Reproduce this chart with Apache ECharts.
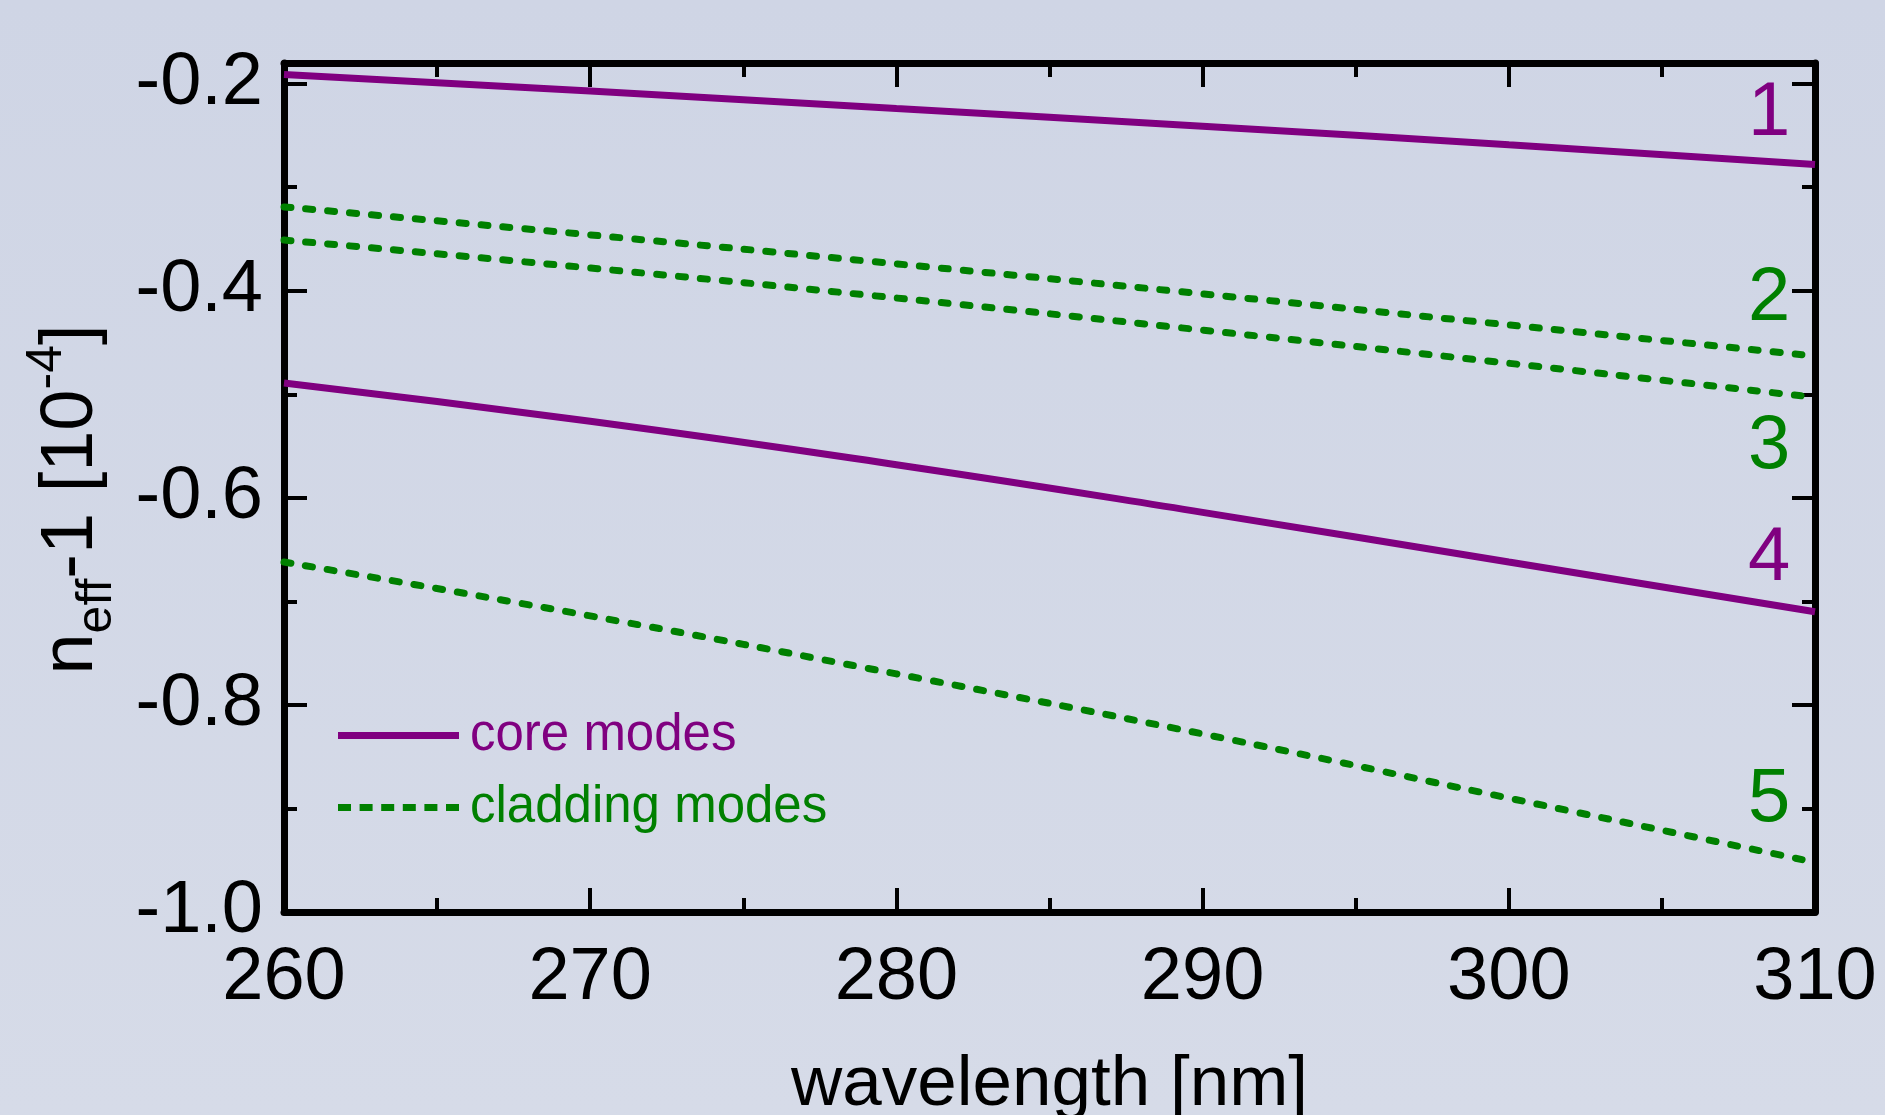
<!DOCTYPE html>
<html>
<head>
<meta charset="utf-8">
<script src="https://cdn.jsdelivr.net/npm/echarts@6/dist/echarts.min.js"></script>
<style>
  html, body { margin: 0; padding: 0; }
  #chart { width: 1885px; height: 1115px; }
</style>
</head>
<body>
<div id="chart"></div>
<script>
// wavelength [nm] and n_eff - 1 [1e-4] per mode
const wavelength = [260, 270, 280, 290, 300, 310];
const mode1 = [-0.191, -0.207, -0.224, -0.241, -0.259, -0.278];
const mode2 = [-0.319, -0.346, -0.374, -0.403, -0.433, -0.463];
const mode3 = [-0.351, -0.378, -0.407, -0.438, -0.470, -0.503];
const mode4 = [-0.489, -0.526, -0.568, -0.614, -0.662, -0.710];
const mode5 = [-0.662, -0.714, -0.770, -0.828, -0.890, -0.952];

// mode numbers written at the right end of each curve
const modeLabels = ['1', '2', '3', '4', '5'];
const labelX = 308.5;
const labelY = [-0.229, -0.408, -0.551, -0.659, -0.892];

const PURPLE = '#800080';
const GREEN = '#008000';
const FONT = "'Liberation Sans Narrow', 'Arial Narrow', 'Liberation Sans', Arial, sans-serif";

// dotted legend sample: six short dashes
const DOTTED_ICON = 'path://M0,0h13v7h-13z M21.6,0h13v7h-13z M43.2,0h13v7h-13z M64.8,0h13v7h-13z M86.4,0h13v7h-13z M108,0h13v7h-13z';

const chart = echarts.init(document.getElementById('chart'));

const toPairs = ys => wavelength.map((x, i) => [x, ys[i]]);

const makeSeries = (name, ys, idx, core) => ({
  name: name,
  type: 'line',
  data: toPairs(ys),
  symbol: 'none',
  smooth: true,
  lineStyle: core
    ? { color: PURPLE, width: 7 }
    : { color: GREEN, width: 7, type: [7, 15], cap: 'round' },
  itemStyle: { color: core ? PURPLE : GREEN },
  markPoint: {
    symbol: 'circle',
    symbolSize: 0,
    silent: true,
    label: {
      show: true,
      position: 'inside',
      color: core ? PURPLE : GREEN,
      fontSize: 76,
      fontFamily: FONT,
      formatter: modeLabels[idx]
    },
    data: [{ coord: [labelX, labelY[idx]] }]
  }
});

const xBase = (pos, labels) => ({
  type: 'value',
  position: pos,
  min: 260,
  max: 310,
  interval: 10,
  axisLine: { show: true, onZero: false, lineStyle: { color: '#000', width: 7 } },
  axisTick: { show: true, inside: true, length: 24, lineStyle: { color: '#000', width: 4 } },
  minorTick: { show: true, splitNumber: 2, length: 14, lineStyle: { color: '#000', width: 4 } },
  splitLine: { show: false },
  axisLabel: {
    show: labels,
    color: '#000',
    fontSize: 74,
    lineHeight: 74,
    fontFamily: FONT,
    margin: 30
  }
});

const yBase = (pos, interval, tickLen, labels, line) => ({
  type: 'value',
  position: pos,
  offset: 0,
  min: -1,
  max: -0.18,
  interval: interval,
  axisLine: { show: line, onZero: false, lineStyle: { color: '#000', width: 7 } },
  axisTick: { show: true, inside: true, length: tickLen, lineStyle: { color: '#000', width: 4 } },
  splitLine: { show: false },
  axisLabel: {
    show: labels,
    showMaxLabel: false,
    color: '#000',
    fontSize: 74,
    lineHeight: 74,
    fontFamily: FONT,
    margin: 21,
    formatter: v => v.toFixed(1)
  }
});

const yLeft = yBase('left', 0.2, 23, true, true);
yLeft.name = '{n|n}{sub|eff}{n|-1 [10}{sup|-4}{n|]}';
yLeft.nameLocation = 'middle';
yLeft.nameRotate = 90;
yLeft.nameGap = 162;
yLeft.nameTextStyle = {
  color: '#000',
  fontFamily: FONT,
  padding: [0, 24, 0, 0],
  rich: {
    n: { fontSize: 74, lineHeight: 100, fontFamily: FONT, color: '#000' },
    sub: { fontSize: 50, lineHeight: 50, verticalAlign: 'bottom', fontFamily: FONT, color: '#000' },
    sup: { fontSize: 50, lineHeight: 50, verticalAlign: 'top', fontFamily: FONT, color: '#000' }
  }
};

const xBottom = xBase('bottom', true);
xBottom.name = 'wavelength [nm]';
xBottom.nameLocation = 'middle';
xBottom.nameGap = 138;
xBottom.nameTextStyle = { color: '#000', fontSize: 71, lineHeight: 71, fontFamily: FONT };

chart.setOption({
  animation: false,
  backgroundColor: new echarts.graphic.LinearGradient(0, 0, 0, 1, [
    { offset: 0, color: '#cfd5e5' },
    { offset: 1, color: '#d6dbe8' }
  ]),
  grid: { left: 284, right: 70, top: 63, bottom: 203, containLabel: false, outerBoundsMode: 'none' },
  legend: {
    orient: 'vertical',
    left: 338,
    top: 710,
    padding: 0,
    itemWidth: 121,
    itemHeight: 7,
    itemGap: 21,
    textStyle: { fontSize: 51, lineHeight: 51, fontFamily: FONT, padding: [0, 0, 0, 6] },
    data: [
      { name: 'core modes', icon: 'rect', textStyle: { color: PURPLE } },
      { name: 'cladding modes', icon: DOTTED_ICON, textStyle: { color: GREEN } }
    ]
  },
  xAxis: [xBottom, xBase('top', false)],
  yAxis: [
    yLeft,
    yBase('left', 0.1, 13, false, false),
    yBase('right', 0.2, 23, false, true),
    yBase('right', 0.1, 13, false, false)
  ],
  series: [
    makeSeries('core modes', mode1, 0, true),
    makeSeries('cladding modes', mode2, 1, false),
    makeSeries('cladding modes', mode3, 2, false),
    makeSeries('core modes', mode4, 3, true),
    makeSeries('cladding modes', mode5, 4, false)
  ]
});
</script>
</body>
</html>
